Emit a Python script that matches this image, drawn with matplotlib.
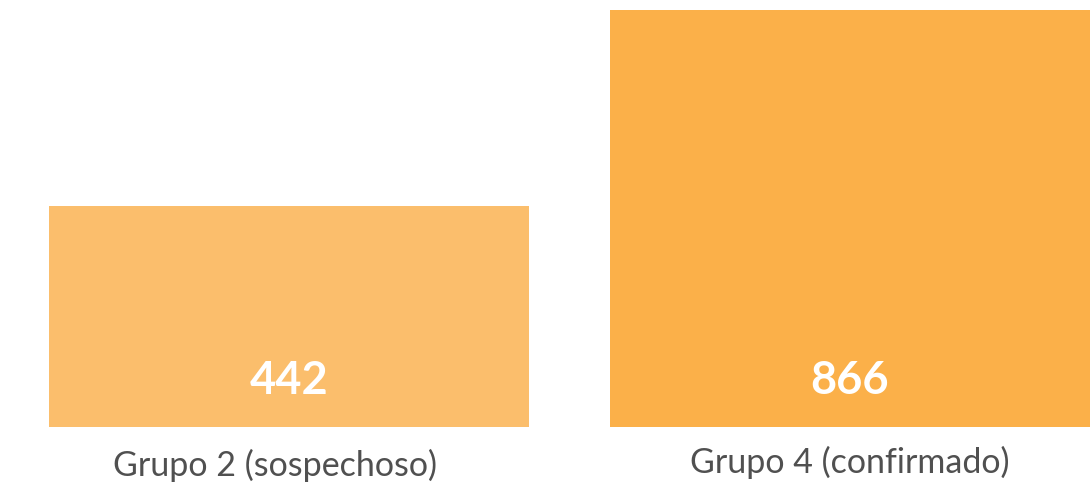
import matplotlib
matplotlib.use("Agg")
import matplotlib.pyplot as plt

groups = ["Grupo 2 (sospechoso)", "Grupo 4 (confirmado)"]
counts = [442, 866]
bar_colors = ["#fbbe6c", "#fbb049"]

# y domain starts a little below zero, bars rise from the floor
Y_FLOOR = -36
# small per-label nudges (points) seen in the original layout
LABEL_NUDGE = [(-10, -2), (0, 0)]

plt.rcParams["font.family"] = ["Lato", "DejaVu Sans"]

fig = plt.figure(figsize=(10.92, 4.85), dpi=100)
ax = fig.add_axes([49 / 1092, 57 / 485, 1041 / 1092, 417 / 485])

x = list(range(len(groups)))
heights = [c - Y_FLOOR for c in counts]
bars = ax.bar(x, heights, bottom=Y_FLOOR, width=0.856, color=bar_colors)

for bar, c in zip(bars, counts):
    ax.annotate(f"{c}", (bar.get_x() + bar.get_width() / 2, Y_FLOOR),
                xytext=(0, 34), textcoords="offset points",
                ha="center", va="center", fontsize=32.5, fontweight="bold",
                color="white")

for xi, name, (dx, dy) in zip(x, groups, LABEL_NUDGE):
    ax.annotate(name, (xi, Y_FLOOR), xytext=(dx, -25 + dy),
                textcoords="offset points", ha="center", va="center",
                fontsize=24.5, color="#505050", annotation_clip=False)

ax.set_xlim(-0.428, 1.428)
ax.set_ylim(Y_FLOOR, 866)
ax.set_xticks([])
ax.set_yticks([])
for s in ax.spines.values():
    s.set_visible(False)

fig.savefig("out.png", dpi=100)
